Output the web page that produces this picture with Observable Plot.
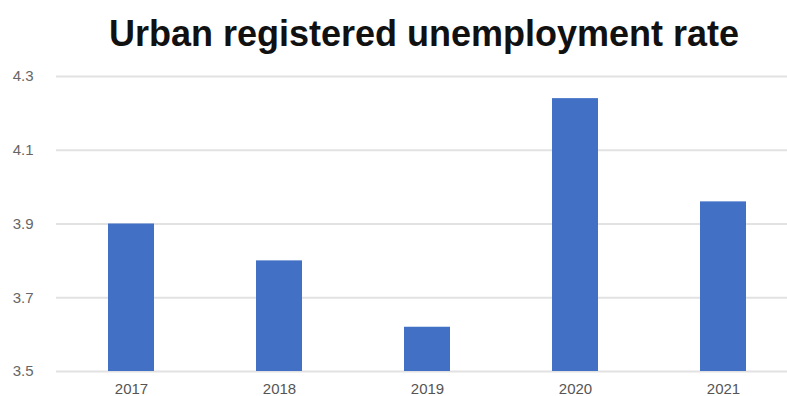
<!DOCTYPE html>
<html>
<head>
<meta charset="utf-8">
<script src="https://cdn.jsdelivr.net/npm/d3@7"></script>
<script src="https://cdn.jsdelivr.net/npm/@observablehq/plot@0.6"></script>
<style>
  html, body { margin: 0; padding: 0; background: #fff; overflow: hidden; }
  #wrap { width: 787px; height: 396px; position: relative; }
  #title { height: 60px; position: relative; }
  #title span { position: absolute; left: 424px; top: 13px; transform: translateX(-50%); white-space: nowrap;
    font-family: "Liberation Sans", Arial, sans-serif; font-weight: bold; font-size: 36px; color: #111; }
</style>
</head>
<body>
<div id="wrap">
  <div id="title"><span>Urban registered unemployment rate</span></div>
  <div id="chart"></div>
</div>
<script>
const years = ["2017", "2018", "2019", "2020", "2021"];
const rates = [3.90, 3.80, 3.62, 4.24, 3.96];
const yTicks = [3.5, 3.7, 3.9, 4.1, 4.3];

const data = years.map((y, i) => ({year: y, rate: rates[i]}));

const chart = Plot.plot({
  width: 787,
  height: 336,
  marginTop: 16,
  marginBottom: 25,
  marginLeft: 56,
  marginRight: 0,
  style: {fontFamily: "Liberation Sans, Arial, sans-serif", background: "#fff", overflow: "visible"},
  x: {domain: years, range: [56, 798], paddingInner: 0.69, paddingOuter: 0.345, label: null},
  y: {domain: [3.5, 4.3], label: null},
  marks: [
    Plot.ruleY(yTicks, {stroke: "#e2e2e2", strokeWidth: 2}),
    Plot.barY(data, {x: "year", y1: 3.5, y2: "rate", fill: "#4170c4"}),
    Plot.axisY(yTicks, {tickSize: 0, tickPadding: 23, fontSize: 15, fill: "#666", tickFormat: d => d.toFixed(1)}),
    Plot.axisX({tickSize: 0, tickPadding: 12, fontSize: 15, fill: "#555"})
  ]
});
document.getElementById("chart").appendChild(chart);
</script>
</body>
</html>
